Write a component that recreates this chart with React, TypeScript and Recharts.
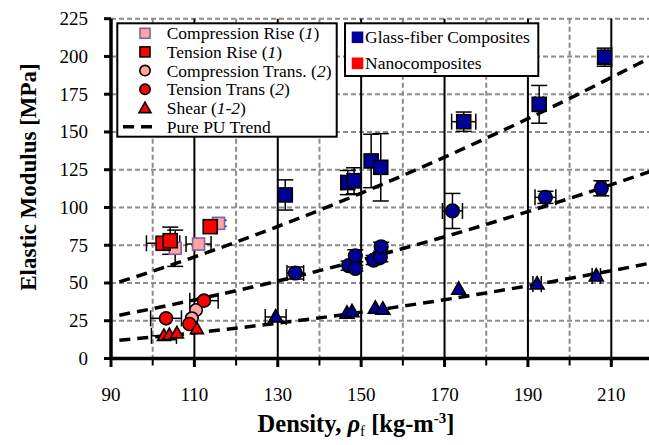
import React from 'react';
import { ComposedChart, Scatter, Line, XAxis, YAxis, CartesianGrid, ErrorBar } from 'recharts';

const FONT = '"Liberation Serif", "Times New Roman", Times, serif';

const xTicks = [90, 100, 110, 120, 130, 140, 150, 160, 170, 180, 190, 200, 210, 220];
const xMajor = [110, 130, 150, 170, 190, 210];
const xMinor = [100, 120, 140, 160, 180, 200, 220];
const yTicks = [0, 25, 50, 75, 100, 125, 150, 175, 200, 225];
const yGrid = [25, 50, 75, 100, 125, 150, 175, 200, 225];

const glassRise = [
  { x: 131.8, y: 108.3, ex: 0, ey: 10 },
  { x: 146.8, y: 116.5, ex: 1.5, ey: 8 },
  { x: 148.3, y: 117.7, ex: 1, ey: 8.6 },
  { x: 152.4, y: 130.8, ex: 0, ey: 17.7 },
  { x: 154.7, y: 126.6, ex: 0, ey: 22.3 },
  { x: 174.6, y: 156.8, ex: 2.9, ey: 6.4 },
  { x: 192.7, y: 168.3, ex: 1, ey: 12.5 },
  { x: 208.4, y: 199.5, ex: 0.8, ey: 6 },
];

const glassTrans = [
  { x: 134.2, y: 56.6, ex: 2, ey: 4 },
  { x: 147, y: 61.5, ex: 0, ey: 3 },
  { x: 148.6, y: 68, ex: 0, ey: 4 },
  { x: 148.6, y: 59.7, ex: 0, ey: 2 },
  { x: 153, y: 65.2, ex: 0, ey: 3 },
  { x: 154.6, y: 67, ex: 0, ey: 3 },
  { x: 154.8, y: 74, ex: 0, ey: 3 },
  { x: 171.9, y: 97.7, ex: 2.4, ey: 11.6 },
  { x: 194.2, y: 106.7, ex: 2.5, ey: 4 },
  { x: 207.6, y: 112.7, ex: 1, ey: 5 },
];

const glassShear = [
  { x: 129.5, y: 27.5, ex: 2.5, ey: 0 },
  { x: 146.6, y: 30, ex: 0, ey: 0 },
  { x: 147.8, y: 31, ex: 0, ey: 0 },
  { x: 153.4, y: 33.2, ex: 0, ey: 0 },
  { x: 155.2, y: 32.6, ex: 0, ey: 0 },
  { x: 173.4, y: 45.8, ex: 0, ey: 0 },
  { x: 192.2, y: 49.3, ex: 1, ey: 0 },
  { x: 206.4, y: 54.6, ex: 1, ey: 0 },
];

const nanoCompRise = [
  { x: 105.4, y: 73, ex: 0, ey: 12 },
  { x: 111, y: 75.8, ex: 3, ey: 0 },
  { x: 115.8, y: 89.5, ex: 0, ey: 2 },
];

const nanoTensRise = [
  { x: 102.5, y: 76.3, ex: 4, ey: 0 },
  { x: 104.2, y: 78, ex: 0, ey: 9 },
  { x: 113.8, y: 87.3, ex: 0, ey: 0 },
];

const nanoCompTrans = [
  { x: 110.4, y: 32.1, ex: 0, ey: 0 },
  { x: 109.4, y: 26.6, ex: 0, ey: 0 },
];

const nanoTensTrans = [
  { x: 103.2, y: 26.6, ex: 3.7, ey: 0 },
  { x: 108.8, y: 22.8, ex: 0, ey: 0 },
  { x: 112.3, y: 38.3, ex: 3.4, ey: 0 },
];

const nanoShear = [
  { x: 102.7, y: 15, ex: 3, ey: 0 },
  { x: 104, y: 15.5, ex: 0, ey: 0 },
  { x: 105.8, y: 16.7, ex: 0, ey: 0 },
  { x: 110.6, y: 19.5, ex: 0, ey: 0 },
];

const trendRise = [
  { x: 92, y: 50.7 }, { x: 100, y: 57.8 }, { x: 110, y: 67.2 }, { x: 120, y: 77.1 },
  { x: 130, y: 87.4 }, { x: 140, y: 98.2 }, { x: 150, y: 109.5 }, { x: 160, y: 121.2 },
  { x: 170, y: 133.3 }, { x: 180, y: 145.9 }, { x: 190, y: 158.8 }, { x: 200, y: 172.2 },
  { x: 210, y: 186.1 }, { x: 220, y: 200 },
];
const trendTrans = [
  { x: 92, y: 28.7 }, { x: 100, y: 33.0 }, { x: 110, y: 38.8 }, { x: 120, y: 44.9 },
  { x: 130, y: 51.3 }, { x: 140, y: 58.2 }, { x: 150, y: 65.3 }, { x: 160, y: 72.8 },
  { x: 170, y: 80.6 }, { x: 180, y: 88.8 }, { x: 190, y: 97.3 }, { x: 200, y: 106.0 },
  { x: 210, y: 115.1 }, { x: 220, y: 124.5 },
];
const trendShear = [
  { x: 92, y: 12.1 }, { x: 100, y: 14.2 }, { x: 110, y: 17.0 }, { x: 120, y: 20.1 },
  { x: 130, y: 23.4 }, { x: 140, y: 26.9 }, { x: 150, y: 30.6 }, { x: 160, y: 34.7 },
  { x: 170, y: 38.9 }, { x: 180, y: 43.4 }, { x: 190, y: 48.1 }, { x: 200, y: 53.0 },
  { x: 210, y: 58.1 }, { x: 220, y: 63.5 },
];

const BLUE = '#000099';
const RED = '#ff0000';
const PINK = '#ffa3a3';
const PURPLE = '#8064a2';

const squareShape = (fill: string, stroke: string, size: number) => (p: any) => (
  <rect x={p.cx - size / 2} y={p.cy - size / 2} width={size} height={size} fill={fill} stroke={stroke} strokeWidth={1.6} />
);
const circleShape = (fill: string, r: number) => (p: any) => (
  <circle cx={p.cx} cy={p.cy} r={r} fill={fill} stroke="#000" strokeWidth={1.6} />
);
const triShape = (fill: string, s: number) => (p: any) => {
  const h = s * 0.88;
  const pts = `${p.cx},${p.cy - h * 0.6} ${p.cx + s / 2},${p.cy + h * 0.4} ${p.cx - s / 2},${p.cy + h * 0.4}`;
  return <polygon points={pts} fill={fill} stroke="#000" strokeWidth={1.6} strokeLinejoin="miter" />;
};

const XTick = (props: any) => {
  const { x, y, payload } = props;
  const v = payload.value;
  const major = (v - 90) % 20 === 0;
  return (
    <g>
      <line x1={x} x2={x} y1={y} y2={y + (major ? 8.5 : 7)} stroke="#000" strokeWidth={major ? 3 : 2} />
      {major && v <= 210 ? (
        <text x={x} y={y + 42} textAnchor="middle" fontFamily={FONT} fontSize={19} fill="#000">{v}</text>
      ) : null}
    </g>
  );
};

const YTick = (props: any) => {
  const { x, y, payload } = props;
  return (
    <g>
      <line x1={x - 7} x2={x} y1={y} y2={y} stroke="#000" strokeWidth={3} />
      <text x={x - 23} y={y + 6.5} textAnchor="end" fontFamily={FONT} fontSize={19} fill="#000">{payload.value}</text>
    </g>
  );
};

const errY = <ErrorBar dataKey="ey" direction="y" width={8} stroke="#000" strokeWidth={1.5} />;
const errX = <ErrorBar dataKey="ex" direction="x" width={8} stroke="#000" strokeWidth={1.5} />;

const legendRows = [
  { kind: 'sq', fill: PINK, stroke: PURPLE, label: 'Compression Rise (', num: '1', end: ')' },
  { kind: 'sq', fill: RED, stroke: '#000', label: 'Tension Rise (', num: '1', end: ')' },
  { kind: 'ci', fill: PINK, stroke: '#000', label: 'Compression Trans. (', num: '2', end: ')' },
  { kind: 'ci', fill: RED, stroke: '#000', label: 'Tension Trans (', num: '2', end: ')' },
  { kind: 'tr', fill: RED, stroke: '#000', label: 'Shear (', num: '1-2', end: ')' },
  { kind: 'ln', fill: '', stroke: '#000', label: 'Pure PU Trend', num: '', end: '' },
];

export default function App() {
  const rowY = [33.3, 51.9, 70.6, 89.3, 108.1, 126.8];
  return (
    <div style={{ position: 'absolute', left: 0, top: 0, width: 649, height: 445, overflow: 'hidden', background: '#fff' }}>
      <ComposedChart width={653} height={445} margin={{ top: 18.7, right: 0, bottom: 0, left: 0 }}>
        <CartesianGrid stroke="#8c8c8c" strokeWidth={2} strokeDasharray="5 3" horizontalValues={yGrid} verticalValues={xMinor} />
        <CartesianGrid stroke="#000" strokeWidth={2} horizontal={false} verticalValues={xMajor} />
        <XAxis type="number" dataKey="x" domain={[90, 220]} ticks={xTicks} interval={0} tickSize={0} tickMargin={0}
          tick={<XTick />} tickLine={false} axisLine={{ stroke: '#000', strokeWidth: 3.5 }} height={86.5} allowDataOverflow />
        <YAxis type="number" dataKey="y" domain={[0, 225]} ticks={yTicks} interval={0} tickSize={0} tickMargin={0}
          tick={<YTick />} tickLine={false} axisLine={{ stroke: '#000', strokeWidth: 3.5 }} width={111} allowDataOverflow />
        <Scatter name="Glass Rise" data={glassRise} dataKey="y" shape={squareShape(BLUE, '#000', 14)} isAnimationActive={false}>
          {errY}{errX}
        </Scatter>
        <Scatter name="Glass Trans" data={glassTrans} dataKey="y" shape={circleShape(BLUE, 6.8)} isAnimationActive={false}>
          {errY}{errX}
        </Scatter>
        <Scatter name="Glass Shear" data={glassShear} dataKey="y" shape={triShape(BLUE, 14)} isAnimationActive={false}>
          {errY}{errX}
        </Scatter>
        <Scatter name="Compression Rise" data={nanoCompRise} dataKey="y" shape={squareShape(PINK, PURPLE, 12)} isAnimationActive={false}>
          {errY}{errX}
        </Scatter>
        <Scatter name="Tension Rise" data={nanoTensRise} dataKey="y" shape={squareShape(RED, '#000', 14)} isAnimationActive={false}>
          {errY}{errX}
        </Scatter>
        <Scatter name="Compression Trans" data={nanoCompTrans} dataKey="y" shape={circleShape(PINK, 6.3)} isAnimationActive={false}>
          {errY}{errX}
        </Scatter>
        <Scatter name="Tension Trans" data={nanoTensTrans} dataKey="y" shape={circleShape(RED, 6.5)} isAnimationActive={false}>
          {errY}{errX}
        </Scatter>
        <Scatter name="Shear" data={nanoShear} dataKey="y" shape={triShape(RED, 13)} isAnimationActive={false}>
          {errY}{errX}
        </Scatter>
        <Line data={trendRise} dataKey="y" type="monotone" dot={false} activeDot={false} stroke="#000" strokeWidth={3.5} strokeDasharray="11 7" isAnimationActive={false} />
        <Line data={trendTrans} dataKey="y" type="monotone" dot={false} activeDot={false} stroke="#000" strokeWidth={3.5} strokeDasharray="11 7" isAnimationActive={false} />
        <Line data={trendShear} dataKey="y" type="monotone" dot={false} activeDot={false} stroke="#000" strokeWidth={3.5} strokeDasharray="11 7" isAnimationActive={false} />
      </ComposedChart>
      <svg width={649} height={445} style={{ position: 'absolute', left: 0, top: 0, pointerEvents: 'none' }}>
        <text transform="rotate(-90, 28, 177)" x={28} y={177} textAnchor="middle" dominantBaseline="central"
          fontFamily={FONT} fontWeight="bold" fontSize={23} fill="#000">Elastic Modulus [MPa]</text>
        <text x={356} y={432} textAnchor="middle" fontFamily={FONT} fontWeight="bold" fontSize={24.5} fill="#000">
          Density, <tspan fontStyle="italic">ρ</tspan><tspan fontSize={15} fontWeight="normal" dy={4}>f</tspan><tspan dy={-4}> [kg-m</tspan><tspan fontSize={15} dy={-9}>-3</tspan><tspan dy={9}>]</tspan>
        </text>
        <g>
          <rect x={117.3} y={23.3} width={219.4} height={113.4} fill="#fff" stroke="#000" strokeWidth={2} />
          {legendRows.map((r, i) => {
            const cy = rowY[i];
            const cx = 145;
            let sym: any = null;
            if (r.kind === 'sq') sym = <rect x={cx - 5} y={cy - 5} width={10} height={10} fill={r.fill} stroke={r.stroke} strokeWidth={1.6} />;
            else if (r.kind === 'ci') sym = <circle cx={cx} cy={cy} r={5.2} fill={r.fill} stroke={r.stroke} strokeWidth={1.6} />;
            else if (r.kind === 'tr') sym = <polygon points={`${cx},${cy - 6} ${cx + 6},${cy + 4.5} ${cx - 6},${cy + 4.5}`} fill={r.fill} stroke="#000" strokeWidth={1.6} />;
            else sym = <line x1={123} x2={156} y1={cy} y2={cy} stroke="#000" strokeWidth={3.5} strokeDasharray="11 7" />;
            return (
              <g key={i}>
                {sym}
                <text x={166.7} y={cy + 6} fontFamily={FONT} fontSize={17.5} fill="#000">
                  {r.label}{r.num ? <tspan fontStyle="italic">{r.num}</tspan> : null}{r.end}
                </text>
              </g>
            );
          })}
        </g>
        <g>
          <rect x={345} y={23.3} width={193.3} height={52.7} fill="#fff" stroke="#000" strokeWidth={2} />
          <rect x={351.7} y={31.5} width={11.6} height={11.6} fill={BLUE} />
          <text x={365} y={43.3} fontFamily={FONT} fontSize={17.5} fill="#000">Glass-fiber Composites</text>
          <rect x={351.7} y={57.5} width={11.6} height={11.6} fill={RED} />
          <text x={365} y={69.3} fontFamily={FONT} fontSize={17.5} fill="#000">Nanocomposites</text>
        </g>
      </svg>
    </div>
  );
}
